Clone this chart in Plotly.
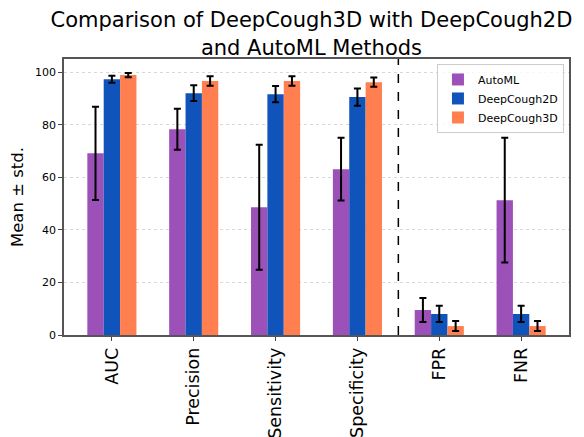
import plotly.graph_objects as go

categories = ["AUC", "Precision", "Sensitivity", "Specificity", "FPR", "FNR"]
automl_mean = [69.1, 78.3, 48.6, 63.1, 9.5, 51.3]
automl_std = [17.7, 7.8, 23.8, 11.9, 4.6, 23.7]
dc2d_mean = [97.3, 92.0, 91.6, 90.5, 8.0, 8.0]
dc2d_std = [1.3, 3.0, 3.1, 3.3, 3.1, 3.1]
dc3d_mean = [98.9, 96.6, 96.6, 96.2, 3.4, 3.4]
dc3d_std = [0.8, 1.8, 1.8, 1.8, 1.9, 1.9]
series_names = ["AutoML", "DeepCough2D", "DeepCough3D"]
y_ticks = [0, 20, 40, 60, 80, 100]

colors = ["#9b51b8", "#1054bb", "#ff7f50"]
FONT = "DejaVu Sans"

fig = go.Figure()
for name, m, s, c in zip(series_names, [automl_mean, dc2d_mean, dc3d_mean],
                         [automl_std, dc2d_std, dc3d_std], colors):
    fig.add_trace(go.Bar(
        x=categories, y=m, name=name, marker=dict(color=c, line=dict(width=0)),
        error_y=dict(type="data", array=s, visible=True, color="black",
                     thickness=2, width=3.5),
    ))

fig.add_shape(type="line", xref="x", yref="paper", x0=3.5, x1=3.5, y0=0, y1=1,
              line=dict(color="black", width=1.5, dash="dash"))

# page body has an 8px margin, so the figure is sized to the visible area
fig.update_layout(
    width=576, height=429,
    margin=dict(l=56, r=15, t=51, b=102, autoexpand=False),
    paper_bgcolor="white", plot_bgcolor="white",
    barmode="group", bargap=0.4, bargroupgap=0,
    font=dict(family=FONT, color="black"),
    title=dict(text="Comparison of DeepCough3D with DeepCough2D<br>and AutoML Methods",
               font=dict(size=21, family=FONT, color="black"),
               x=0.49, xref="paper", xanchor="center",
               y=0.955, yref="container", yanchor="top"),
    legend=dict(x=0.99, y=0.982, xanchor="right", yanchor="top",
                bgcolor="rgba(255,255,255,0.8)", bordercolor="#cccccc", borderwidth=1,
                font=dict(size=11, family=FONT), traceorder="normal",
                itemwidth=30, tracegroupgap=0),
    showlegend=True,
)

fig.update_xaxes(
    type="category", range=[-0.585, 5.585], automargin=False,
    tickangle=-90, tickfont=dict(size=17.5, family=FONT),
    ticks="outside", ticklen=4, tickcolor="#444",
    showline=True, linecolor="#555", linewidth=1.5, mirror=True,
    showgrid=False,
)
fig.update_yaxes(
    range=[0, 105], tickvals=y_ticks, tickfont=dict(size=11, family=FONT),
    automargin=False,
    ticks="outside", ticklen=4, tickcolor="#444",
    showline=True, linecolor="#555", linewidth=1.5, mirror=True,
    showgrid=True, gridcolor="#d8d8d8", griddash="dot", gridwidth=1,
    zeroline=False,
    title=dict(text="Mean ± std.", font=dict(size=16.5, family=FONT), standoff=8),
)

fig.write_html("out.html")
